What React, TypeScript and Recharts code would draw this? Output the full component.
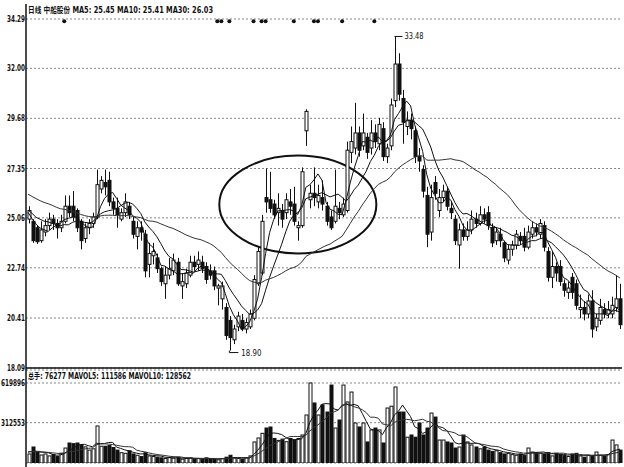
import React from "react";
import {
  ComposedChart,
  Bar,
  Line,
  XAxis,
  YAxis,
  CartesianGrid,
  ReferenceArea,
  ReferenceDot,
} from "recharts";

// daily candles (price units)
const opens = [
  25.0, 24.9, 24.6, 24.0, 24.4, 24.7, 25.0, 24.8, 24.6, 24.9,
  25.6, 25.6, 25.4, 24.9, 24.1, 24.6, 24.8, 25.1, 26.4, 26.7,
  26.8, 25.8, 25.5, 25.0, 25.3, 25.6, 24.9, 24.2, 24.6, 24.3,
  22.9, 23.3, 23.2, 22.7, 22.0, 22.4, 22.6, 23.0, 21.9, 22.0,
  22.4, 23.0, 22.9, 23.0, 22.8, 22.6, 22.6, 21.8, 21.3, 20.9,
  20.3, 19.4, 20.0, 20.3, 19.9, 20.0, 20.4, 22.0, 22.5, 26.0,
  25.9, 25.7, 25.3, 25.4, 25.3, 25.8, 25.7, 24.6, 24.7, 29.1,
  25.9, 26.2, 25.8, 26.0, 25.6, 25.1, 24.9, 25.5, 25.2, 25.4,
  28.1, 28.3, 29.0, 28.4, 28.8, 28.3, 29.0, 28.5, 29.2, 27.9,
  28.4, 30.5, 32.2, 30.6, 29.3, 29.6, 29.1, 27.9, 27.3,
  26.1, 24.4, 26.7, 25.4, 26.0, 26.3, 25.5, 25.0, 23.8, 24.5,
  24.2, 24.5, 25.0, 24.8, 25.2, 25.3, 24.6, 24.0, 24.3, 23.9,
  23.1, 23.6, 23.8, 24.2, 24.2, 23.7, 24.3, 24.6, 24.3, 24.7,
  23.5, 22.3, 22.8, 22.8, 22.0, 21.6, 22.3, 22.0, 20.8, 20.9,
  20.6, 21.2, 20.0, 20.3, 20.8, 20.6, 20.6, 20.9, 21.3,
];
const closes = [
  25.4, 24.0, 23.95, 24.5, 24.7, 25.0, 24.8, 24.6, 24.9, 25.6,
  25.3, 25.1, 24.6, 24.0, 24.6, 24.8, 25.1, 26.6, 26.8, 26.5,
  25.8, 25.5, 25.2, 25.3, 25.8, 25.2, 24.3, 24.6, 24.4, 22.6,
  23.4, 23.5, 22.7, 22.1, 22.4, 22.7, 23.1, 22.0, 22.1, 22.5,
  23.0, 22.8, 23.1, 22.7, 22.2, 22.4, 21.9, 21.9, 21.9, 19.6,
  19.5, 19.9, 20.5, 19.9, 20.2, 20.6, 22.2, 23.5, 24.9, 25.8,
  25.5, 25.2, 25.5, 25.0, 25.9, 25.6, 24.9, 24.7, 27.2, 30.0,
  26.2, 26.0, 26.1, 25.7, 24.9, 24.6, 25.6, 25.3, 25.7, 28.2,
  28.6, 29.0, 28.2, 29.0, 28.1, 29.0, 28.6, 29.4, 27.9, 28.3,
  30.3, 32.2, 30.8, 29.5, 29.6, 29.2, 27.9, 27.7, 26.3,
  24.3, 26.0, 26.2, 26.0, 26.3, 25.6, 25.3, 24.0, 24.5, 24.2,
  24.5, 25.0, 24.8, 25.2, 25.0, 24.7, 23.9, 24.4, 24.0, 23.2,
  23.6, 23.8, 24.3, 24.0, 23.7, 24.4, 24.6, 24.4, 24.8, 23.7,
  22.3, 22.8, 22.5, 22.1, 21.7, 21.8, 21.6, 21.0, 20.9, 20.6,
  21.2, 19.9, 20.4, 20.9, 20.6, 20.8, 21.0, 21.3, 20.1,
];
const highs = [
  25.6, 25.0, 24.7, 24.9, 25.0, 25.3, 25.2, 25.0, 25.2, 26.1,
  26.1, 26.3, 25.5, 25.0, 24.8, 25.0, 25.3, 27.3, 27.0, 27.3,
  27.2, 26.0, 26.0, 25.5, 26.2, 25.8, 25.1, 24.9, 24.9, 24.5,
  23.9, 23.9, 23.4, 22.8, 22.8, 23.2, 23.4, 23.2, 22.5, 22.7,
  23.3, 23.3, 23.5, 23.3, 23.0, 22.9, 22.8, 22.0, 22.1, 21.1,
  20.5, 20.1, 20.7, 20.6, 20.4, 20.8, 22.4, 23.7, 25.2, 27.35,
  27.2, 25.9, 26.2, 25.7, 26.2, 26.4, 26.5, 24.9, 27.4, 30.1,
  26.6, 27.4, 26.6, 26.8, 25.8, 25.4, 27.3, 25.8, 26.0, 28.6,
  29.3, 30.4, 29.3, 29.9, 29.0, 29.6, 29.4, 29.7, 29.5, 28.5,
  30.6, 33.48, 32.7, 31.0, 30.0, 29.9, 29.3, 28.3, 27.5,
  26.5, 26.6, 27.0, 26.4, 26.6, 26.5, 25.8, 25.2, 24.8, 24.8,
  24.9, 25.4, 25.3, 25.6, 25.5, 25.6, 24.8, 24.6, 24.6, 24.0,
  23.8, 24.0, 24.5, 24.4, 24.6, 24.7, 24.9, 24.8, 25.0, 24.9,
  23.7, 23.5, 23.0, 23.1, 22.2, 22.1, 22.5, 22.2, 21.5, 21.2,
  21.5, 21.7, 20.6, 21.3, 21.1, 21.2, 21.4, 22.4, 22.0,
];
const lows = [
  24.8, 23.9, 23.85, 23.9, 24.2, 24.5, 24.5, 24.1, 24.4, 24.8,
  25.1, 24.9, 24.4, 23.6, 23.9, 24.3, 24.6, 25.0, 26.2, 26.1,
  25.6, 25.2, 24.6, 24.9, 25.1, 25.0, 24.1, 23.6, 24.0, 22.3,
  22.3, 22.9, 22.5, 21.9, 21.3, 22.2, 22.4, 21.9, 21.3, 21.8,
  22.3, 22.6, 22.6, 22.5, 22.0, 22.2, 21.7, 21.0, 20.8, 19.4,
  18.9, 19.2, 19.8, 19.8, 19.7, 19.9, 20.3, 21.9, 22.4, 25.3,
  25.3, 25.0, 24.7, 24.6, 25.0, 25.2, 24.7, 24.0, 24.6, 28.4,
  25.5, 25.6, 25.5, 25.4, 24.7, 24.5, 24.8, 25.0, 25.1, 25.3,
  27.6, 28.0, 27.9, 28.2, 27.8, 28.0, 28.3, 28.2, 27.7, 27.6,
  28.2, 30.2, 30.5, 28.5, 28.9, 28.7, 27.6, 27.2, 26.0,
  23.7, 24.0, 25.9, 25.1, 25.8, 25.4, 25.0, 23.8, 22.7, 24.0,
  24.0, 24.3, 24.6, 24.7, 24.8, 24.5, 23.7, 23.8, 23.7, 23.0,
  22.9, 23.3, 23.6, 23.8, 23.5, 23.6, 24.1, 24.2, 24.1, 23.5,
  22.1, 21.8, 22.1, 21.9, 21.4, 21.3, 21.3, 20.8, 20.4, 20.3,
  20.4, 19.5, 19.8, 20.1, 20.4, 20.4, 20.4, 20.7, 19.9,
];
// sessions before the first visible candle (only feed the moving averages)
const priorCloses = [
  27.2, 27.0, 27.4, 27.1, 26.8, 26.9, 27.3, 27.0, 26.6, 26.4,
  26.7, 26.5, 26.2, 26.4, 26.0, 25.8, 26.1, 25.9, 25.6, 25.7,
  25.5, 25.8, 25.4, 25.6, 25.3, 25.5, 25.2, 25.4, 25.1,
];
// volume in thousands of lots
const volK = [
  70, 124, 90, 62, 70, 55, 65, 50, 75, 116,
  155, 150, 155, 140, 125, 100, 110, 287, 130, 130,
  135, 120, 100, 80, 75, 95, 70, 60, 50, 80,
  55, 50, 45, 40, 35, 42, 38, 45, 30, 35,
  40, 30, 35, 28, 40, 35, 30, 25, 35, 45,
  60, 40, 35, 30, 40, 55, 163, 194, 230, 271,
  279, 190, 175, 185, 165, 190, 180, 190, 217, 372,
  620, 465, 372, 450, 395, 604, 271, 333, 604, 473,
  550, 310, 279, 310, 163, 256, 271, 256, 155, 426,
  440, 589, 395, 395, 200, 217, 200, 310, 217, 271,
  387, 356, 178, 178, 163, 155, 116, 124, 217, 163,
  140, 124, 110, 124, 100, 90, 95, 80, 70, 75,
  65, 60, 70, 60, 116, 85, 80, 75, 70, 80,
  55, 75, 65, 60, 50, 70, 75, 55, 45, 60,
  50, 85, 60, 55, 65, 178, 140, 100,
];
const priorVolK = [85, 90, 80, 95, 75, 100, 85, 90, 80];
const signalIdx = [9, 47, 48, 50, 56, 58, 59, 66, 71, 72, 78, 86];
const priceTicks = [18.09, 20.41, 22.74, 25.06, 27.35, 29.68, 32.0, 34.29];
const volTicks = [312553, 619896];

const FONT = "'DejaVu Sans','Noto Sans CJK SC',sans-serif";
const INK = "#111";

function movingAvg(values: number[], prior: number[], n: number) {
  const all = [...prior, ...values];
  return values.map((_, i) => {
    const end = prior.length + i + 1;
    const win = all.slice(Math.max(0, end - n), end);
    return win.reduce((a, b) => a + b, 0) / win.length;
  });
}

const ma5 = movingAvg(closes, priorCloses, 5);
const ma10 = movingAvg(closes, priorCloses, 10);
const ma30 = movingAvg(closes, priorCloses, 30);
const vols = volK.map((v) => v * 1000);
const mavol5 = movingAvg(vols, priorVolK.map((v) => v * 1000), 5);
const mavol10 = movingAvg(vols, priorVolK.map((v) => v * 1000), 10);

const rows = closes.map((c, i) => ({
  i,
  o: opens[i],
  c,
  h: highs[i],
  l: lows[i],
  range: [lows[i], highs[i]],
  ma5: ma5[i],
  ma10: ma10[i],
  ma30: ma30[i],
  vol: vols[i],
  mavol5: mavol5[i],
  mavol10: mavol10[i],
}));

const Candle = (props: any) => {
  const { x, y, width, height, payload } = props;
  if (!payload || x == null) return <g />;
  const top = Math.min(y, y + height);
  const h = Math.abs(height);
  const span = payload.h - payload.l || 1;
  const py = (v: number) => top + ((payload.h - v) / span) * h;
  const cx = Math.round(x + width / 2) + 0.5;
  const up = payload.c >= payload.o;
  const b1 = py(Math.max(payload.o, payload.c));
  const b2 = py(Math.min(payload.o, payload.c));
  return (
    <g>
      <line x1={cx} x2={cx} y1={top} y2={top + h} stroke={INK} strokeWidth={1} />
      <rect
        x={cx - 1.5}
        y={b1}
        width={3}
        height={Math.max(b2 - b1, 1)}
        fill={up ? "#fff" : INK}
        stroke={INK}
        strokeWidth={1}
      />
    </g>
  );
};

const VolBar = (props: any) => {
  const { x, y, width, height, payload } = props;
  if (!payload || x == null) return <g />;
  const up = payload.c >= payload.o;
  const cx = Math.round(x + width / 2) + 0.5;
  return (
    <rect
      x={cx - 1.5}
      y={y}
      width={3}
      height={Math.max(height, 0)}
      fill={up ? "#fff" : INK}
      stroke={INK}
      strokeWidth={1}
    />
  );
};

// squeezed axis labels like the printed chart
const SqueezedTick = (props: any) => {
  const { x, y, payload, len, digits } = props;
  const label = digits != null ? Number(payload.value).toFixed(digits) : String(payload.value);
  return (
    <text
      x={x - len}
      y={y + 3}
      fontSize={8}
      fontWeight={700}
      fontFamily={FONT}
      fill={INK}
      textLength={len}
      lengthAdjust="spacingAndGlyphs"
    >
      {label}
    </text>
  );
};

export default function App() {
  return (
    <div style={{ position: "absolute", left: 0, top: 0, width: 624, height: 467, background: "#fff", overflow: "hidden" }}>
      <div style={{ position: "absolute", left: 0, top: 0 }}>
        <ComposedChart width={624} height={382} data={rows} margin={{ top: 19, right: 2, left: 0, bottom: 12 }}>
          <CartesianGrid horizontal vertical={false} stroke="#888" strokeDasharray="2 2" />
          <XAxis
            dataKey="i"
            type="category"
            height={2}
            tick={false}
            tickLine={false}
            axisLine={{ stroke: INK, strokeWidth: 1.5 }}
          />
          <YAxis
            width={26}
            domain={[18.09, 34.29]}
            ticks={priceTicks}
            interval={0}
            allowDataOverflow
            tickSize={0}
            tickMargin={1}
            axisLine={false}
            tick={<SqueezedTick len={18} digits={2} />}
          />
          <Bar dataKey="range" barSize={3} shape={<Candle />} isAnimationActive={false} />
          <Line dataKey="ma5" type="linear" stroke={INK} strokeWidth={1} dot={false} isAnimationActive={false} />
          <Line dataKey="ma10" type="linear" stroke={INK} strokeWidth={1} dot={false} isAnimationActive={false} />
          <Line dataKey="ma30" type="linear" stroke="#333" strokeWidth={1} dot={false} isAnimationActive={false} />
          {signalIdx.map((s) => (
            <ReferenceDot key={s} x={s} y={34.18} r={2} fill={INK} stroke="none" ifOverflow="visible" />
          ))}
          <ReferenceArea
            x1={48}
            x2={86}
            y1={23.41}
            y2={27.95}
            ifOverflow="visible"
            shape={(p: any) => (
              <ellipse
                cx={p.x + p.width / 2}
                cy={p.y + p.height / 2}
                rx={Math.abs(p.width) / 2}
                ry={Math.abs(p.height) / 2}
                fill="none"
                stroke={INK}
                strokeWidth={2}
              />
            )}
          />
          <ReferenceDot
            x={91}
            y={33.48}
            ifOverflow="visible"
            shape={(p: any) => (
              <g>
                <line x1={p.cx} y1={p.cy} x2={p.cx + 8} y2={p.cy} stroke={INK} strokeWidth={1} />
                <text x={p.cx + 10} y={p.cy + 3} fontSize={8} fontFamily={FONT} fill={INK} textLength={19} lengthAdjust="spacingAndGlyphs">
                  33.48
                </text>
              </g>
            )}
          />
          <ReferenceDot
            x={50}
            y={18.9}
            ifOverflow="visible"
            shape={(p: any) => (
              <g>
                <polyline
                  points={`${p.cx},${p.cy} ${p.cx},${p.cy + 2} ${p.cx + 9},${p.cy + 2}`}
                  fill="none"
                  stroke={INK}
                  strokeWidth={1}
                />
                <text x={p.cx + 12} y={p.cy + 5} fontSize={8} fontFamily={FONT} fill={INK} textLength={20} lengthAdjust="spacingAndGlyphs">
                  18.90
                </text>
              </g>
            )}
          />
        </ComposedChart>
      </div>
      <div style={{ position: "absolute", left: 0, top: 368 }}>
        <ComposedChart width={624} height={99} data={rows} margin={{ top: 2, right: 2, left: 0, bottom: 4 }}>
          <CartesianGrid horizontal vertical={false} stroke="#888" strokeDasharray="2 2" />
          <XAxis dataKey="i" type="category" hide />
          <YAxis
            width={26}
            domain={[0, 720630]}
            ticks={volTicks}
            interval={0}
            allowDataOverflow
            tickSize={0}
            tickMargin={1}
            axisLine={false}
            tick={<SqueezedTick len={24} />}
          />
          <Bar dataKey="vol" barSize={3} shape={<VolBar />} isAnimationActive={false} />
          <Line dataKey="mavol5" type="linear" stroke={INK} strokeWidth={1} dot={false} isAnimationActive={false} />
          <Line dataKey="mavol10" type="linear" stroke="#333" strokeWidth={1} dot={false} isAnimationActive={false} />
        </ComposedChart>
      </div>
      <svg
        width={624}
        height={467}
        style={{ position: "absolute", left: 0, top: 0, pointerEvents: "none" }}
      >
        <line x1={26} y1={4} x2={26} y2={467} stroke={INK} strokeWidth={1.5} />
        <text
          x={28}
          y={13}
          fontSize={8.5}
          fontWeight={700}
          fontFamily={FONT}
          fill={INK}
          textLength={185}
          lengthAdjust="spacingAndGlyphs"
        >
          日线  中船股份 MA5: 25.45 MA10: 25.41 MA30: 26.03
        </text>
        <text
          x={28}
          y={379}
          fontSize={8.5}
          fontWeight={700}
          fontFamily={FONT}
          fill={INK}
          textLength={163}
          lengthAdjust="spacingAndGlyphs"
        >
          总手: 76277 MAVOL5: 111586 MAVOL10: 128562
        </text>
      </svg>
    </div>
  );
}
